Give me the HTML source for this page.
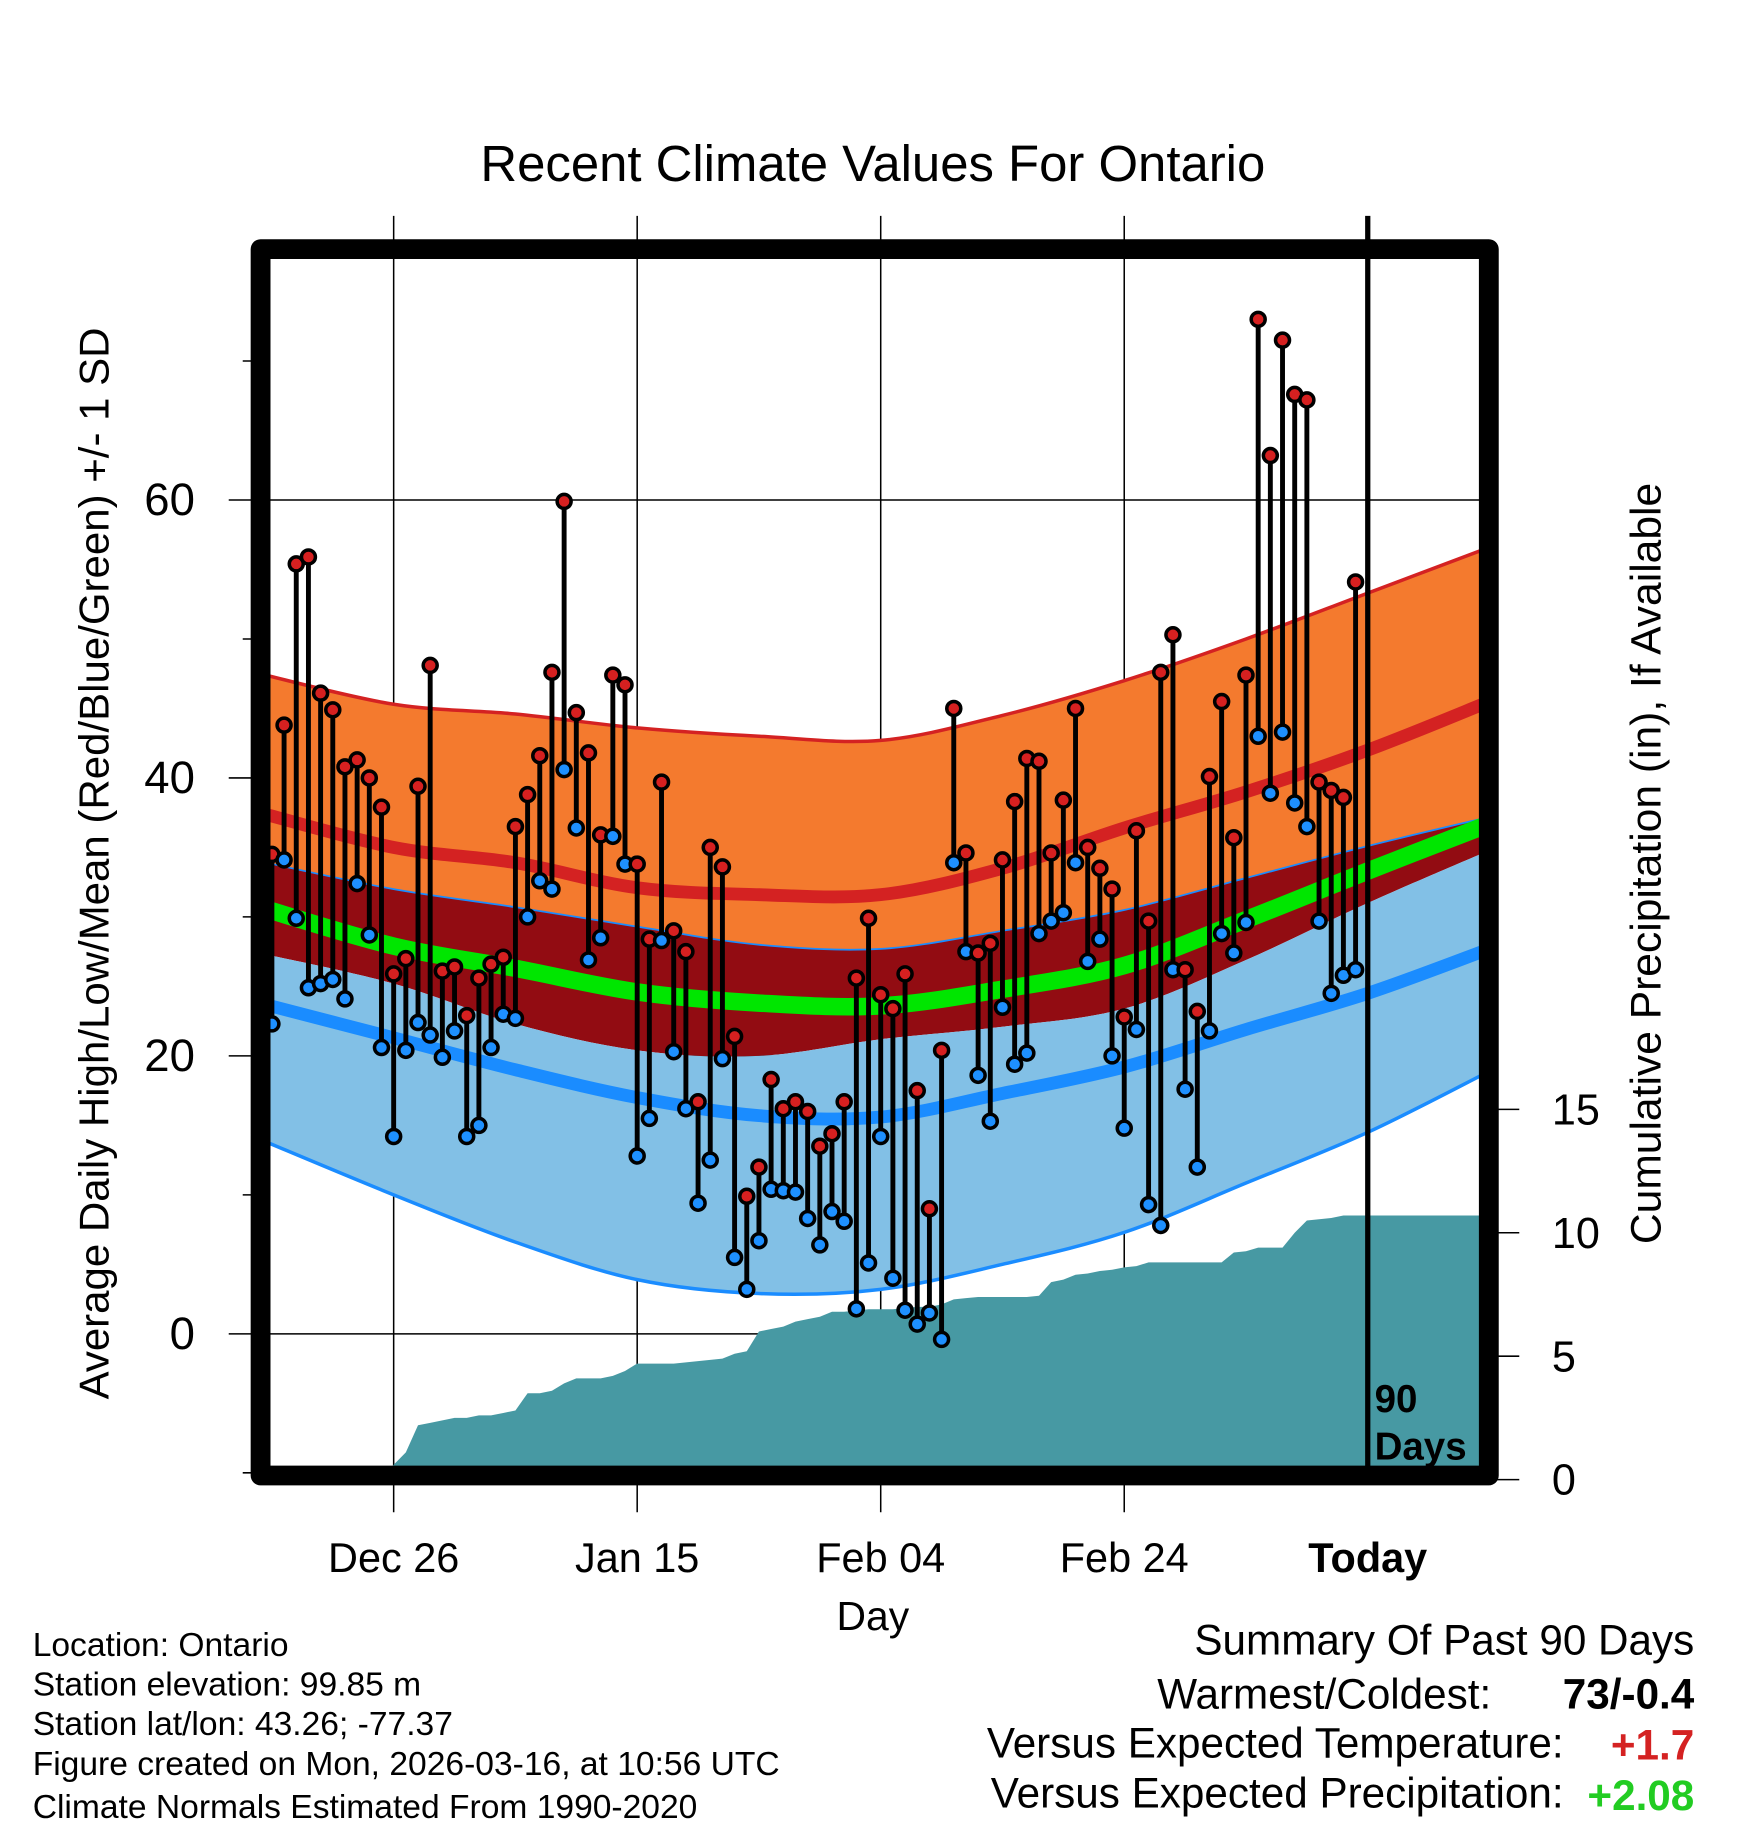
<!DOCTYPE html>
<html><head><meta charset="utf-8">
<style>
html,body{margin:0;padding:0;background:#fff;}
svg{display:block;}
text{font-family:"Liberation Sans",sans-serif;fill:#000;}
</style></head>
<body>
<svg id="chart" xmlns="http://www.w3.org/2000/svg" width="1748" height="1828" viewBox="0 0 1498 1566.6">
<defs><clipPath id="plotclip"><rect x="222.6" y="214" width="1053.9" height="1048.2"/></clipPath></defs>
<g id="grid"></g>
<g id="plot" clip-path="url(#plotclip)"></g>
<g id="over"></g>
<text x="748" y="155" font-size="43.6" text-anchor="middle">Recent Climate Values For Ontario</text>
<text transform="translate(93,740) rotate(-90)" font-size="36" text-anchor="middle">Average Daily High/Low/Mean (Red/Blue/Green) +/- 1 SD</text>
<text transform="translate(1423,740) rotate(-90)" font-size="36.5" text-anchor="middle">Cumulative Precipitation (in), If Available</text>
<text x="748" y="1397" font-size="35" text-anchor="middle">Day</text>
<g font-size="28.8">
<text x="28" y="1419">Location: Ontario</text>
<text x="28" y="1453">Station elevation: 99.85 m</text>
<text x="28" y="1487">Station lat/lon: 43.26; -77.37</text>
<text x="28" y="1521">Figure created on Mon, 2026-03-16, at 10:56 UTC</text>
<text x="28" y="1558">Climate Normals Estimated From 1990-2020</text>
</g>
<g font-size="36.2">
<text x="1452" y="1418" text-anchor="end">Summary Of Past 90 Days</text>
<text x="1278" y="1464" text-anchor="end">Warmest/Coldest:</text>
<text x="1452" y="1464" text-anchor="end" font-weight="bold">73/-0.4</text>
<text x="1340" y="1506" text-anchor="end">Versus Expected Temperature:</text>
<text x="1452" y="1508" text-anchor="end" font-weight="bold" style="fill:#d42222">+1.7</text>
<text x="1340" y="1549" text-anchor="end">Versus Expected Precipitation:</text>
<text x="1452" y="1551" text-anchor="end" font-weight="bold" style="fill:#22cc22">+2.08</text>
</g>
</svg>
<script>
const highs=[34.5,43.8,55.4,55.9,46.1,44.9,40.8,41.3,40.0,37.9,25.9,27.0,39.4,48.1,26.1,26.4,22.9,25.6,26.6,27.1,36.5,38.8,41.6,47.6,59.9,44.7,41.8,35.9,47.4,46.7,33.8,28.4,39.7,29.0,27.5,16.7,35.0,33.6,21.4,9.9,12.0,18.3,16.2,16.7,16.0,13.5,14.4,16.7,25.6,29.9,24.4,23.4,25.9,17.5,9.0,20.4,45.0,34.6,27.4,28.1,34.1,38.3,41.4,41.2,34.6,38.4,45.0,35.0,33.5,32.0,22.8,36.2,29.7,47.6,50.3,26.2,23.2,40.1,45.5,35.7,47.4,73.0,63.2,71.5,67.6,67.2,39.7,39.1,38.6,54.1];
const lows=[22.3,34.1,29.9,24.9,25.2,25.5,24.1,32.4,28.7,20.6,14.2,20.4,22.4,21.5,19.9,21.8,14.2,15.0,20.6,23.0,22.7,30.0,32.6,32.0,40.6,36.4,26.9,28.5,35.8,33.8,12.8,15.5,28.3,20.3,16.2,9.4,12.5,19.8,5.5,3.2,6.7,10.4,10.3,10.2,8.3,6.4,8.8,8.1,1.8,5.1,14.2,4.0,1.7,0.7,1.5,-0.4,33.9,27.5,18.6,15.3,23.5,19.4,20.2,28.8,29.7,30.3,33.9,26.8,28.4,20.0,14.8,21.9,9.3,7.8,26.2,17.6,12.0,21.8,28.8,27.4,29.6,43.0,38.9,43.3,38.2,36.5,29.7,24.5,25.8,26.2];
const precip=[0,0,0,0,0,0,0,0,0,0.05,0.6,1.1,2.2,2.3,2.4,2.5,2.5,2.6,2.6,2.7,2.8,3.5,3.5,3.6,3.9,4.1,4.1,4.1,4.2,4.4,4.7,4.7,4.7,4.7,4.75,4.8,4.85,4.9,5.1,5.2,6.0,6.1,6.2,6.4,6.5,6.6,6.8,6.8,6.85,6.9,6.9,6.9,6.95,7.0,7.0,7.1,7.3,7.35,7.4,7.4,7.4,7.4,7.4,7.45,8.0,8.1,8.3,8.35,8.45,8.5,8.6,8.65,8.8,8.8,8.8,8.8,8.8,8.8,8.8,9.2,9.25,9.4,9.4,9.4,10.0,10.5,10.55,10.6,10.7,10.7];
const normDays=[-1,10,20,30,40,50,60,70,80,90,100];
const highPlus=[47.5,45.3,44.6,43.6,43.0,42.7,44.5,47.0,50.0,53.3,56.6];
const highMean=[37.5,35.0,33.9,32.1,31.6,31.6,33.5,36.4,39.0,42.0,45.5];
const highMinus=[34.0,32.0,30.7,29.3,28.0,27.7,29.0,30.5,32.8,35.1,37.2];
const meanT=[30.7,27.9,26.3,24.6,23.8,23.6,24.8,26.5,29.8,33.3,36.7];
const lowPlus=[27.4,25.2,22.3,20.4,20.0,21.2,22.1,23.4,26.9,31.0,34.8];
const lowMean=[23.8,21.3,19.0,17.0,15.7,15.6,17.3,19.2,21.9,24.5,27.7];
const lowMinus=[14.0,10.0,6.6,3.9,2.9,3.2,5.0,7.3,10.85,14.5,18.9];
const yTicks=[0,20,40,60];
const yMinor=[-10,10,30,50,70];
const pTicks=[0,5,10,15];
const xTickDays=[10,30,50,70,90];
const xTickLabels=["Dec 26","Jan 15","Feb 04","Feb 24","Today"];

const NS="http://www.w3.org/2000/svg";
const X=d=>233+10.435*d;
const Y=v=>1143.1-v*11.91;
const PY=p=>1268-p*21.15;
function mk(tag,attrs,parent){const e=document.createElementNS(NS,tag);for(const k in attrs)e.setAttribute(k,attrs[k]);parent.appendChild(e);return e;}
function pts(vals){return normDays.map((d,i)=>[X(d),Y(vals[i])]);}
function smooth(p){let s="M"+p[0][0]+","+p[0][1];for(let i=0;i<p.length-1;i++){const p0=p[i-1]||p[i],p1=p[i],p2=p[i+1],p3=p[i+2]||p2;const c1=[p1[0]+(p2[0]-p0[0])/6,p1[1]+(p2[1]-p0[1])/6],c2=[p2[0]-(p3[0]-p1[0])/6,p2[1]-(p3[1]-p1[1])/6];s+=" C"+c1+" "+c2+" "+p2;}return s;}
function band(top,bot){const b=pts(bot).reverse();return smooth(pts(top))+" L"+b[0]+smooth(b).slice(1).replace(/^[^C]*/," ")+"Z";}
const plot=document.getElementById('plot'),grid=document.getElementById('grid'),over=document.getElementById('over');

let e;
e=mk('path',{d:band(highMean,lowPlus),fill:'#920c12'},plot);

e=mk('path',{d:band(highPlus,highMinus),fill:'#f47a2e'},plot);

e=mk('path',{d:smooth(pts(highPlus)),fill:'none',stroke:'#d42222','stroke-width':3},plot);

e=mk('path',{d:smooth(pts(highMinus)),fill:'none',stroke:'#1a8cff','stroke-width':1.5},plot);

e=mk('path',{d:band(lowPlus,lowMinus),fill:'#82c0e6'},plot);

e=mk('path',{d:smooth(pts(lowMinus)),fill:'none',stroke:'#1a8cff','stroke-width':3},plot);

e=mk('path',{d:smooth(pts(highMean)),fill:'none',stroke:'#d42222','stroke-width':11},plot);

e=mk('path',{d:smooth(pts(lowMean)),fill:'none',stroke:'#1a8cff','stroke-width':11},plot);

e=mk('path',{d:smooth(pts(meanT)),fill:'none',stroke:'#00e600','stroke-width':15},plot);


let pd="M"+X(-1)+","+PY(0)+" L"+X(0)+","+PY(precip[0]);
precip.forEach((p,i)=>{pd+=" L"+X(i)+","+PY(p);});
const last=precip[precip.length-1];
pd+=" L"+X(101)+","+PY(last)+" L"+X(101)+","+PY(0)+"Z";
e=mk('path',{d:pd,fill:'#4799a3'},plot);


yTicks.forEach(v=>{
 e=mk('line',{x1:196,x2:1276,y1:Y(v),y2:Y(v),stroke:'#000','stroke-width':1.3},grid);
 
 e=mk('text',{x:167,y:Y(v)+13,'font-size':39,'text-anchor':'end'},over);e.textContent=v;
 
});
yMinor.forEach(v=>{
 e=mk('line',{x1:208,x2:224,y1:Y(v),y2:Y(v),stroke:'#000','stroke-width':1.3},grid);
 
});
xTickDays.forEach((d,i)=>{
 if(i<4){e=mk('line',{x1:X(d),x2:X(d),y1:185,y2:1296,stroke:'#000','stroke-width':1.3},grid);
 }
 e=mk('text',{x:X(d),y:1347,'font-size':35.5,'text-anchor':'middle'},over);e.textContent=xTickLabels[i];
 if(i==4)e.setAttribute('font-weight','bold');
 
});
pTicks.forEach(p=>{
 e=mk('line',{x1:1280,x2:1302,y1:PY(p),y2:PY(p),stroke:'#000','stroke-width':1.3},over);
 
 e=mk('text',{x:1330,y:PY(p)+13,'font-size':37},over);e.textContent=p;
 
});

highs.forEach((h,i)=>{
 const l=lows[i],x=X(i);
 e=mk('line',{x1:x,x2:x,y1:Y(h),y2:Y(l),stroke:'#000','stroke-width':4.2},plot);
 
});
highs.forEach((h,i)=>{
 const l=lows[i],x=X(i);
 e=mk('circle',{cx:x,cy:Y(l),r:6,fill:'#1e90ff',stroke:'#000','stroke-width':3},plot);
 
 e=mk('circle',{cx:x,cy:Y(h),r:6,fill:'#d62020',stroke:'#000','stroke-width':3},plot);
 
});

e=mk('line',{x1:X(90),x2:X(90),y1:185,y2:1262,stroke:'#000','stroke-width':4.5},over);

e=mk('rect',{x:223.3,y:213.5,width:1052.6,height:1051,fill:'none',stroke:'#000','stroke-width':17,'stroke-linejoin':'round'},over);

e=mk('text',{x:1178,y:1210,'font-size':33,'font-weight':'bold'},over);e.textContent="90";

e=mk('text',{x:1178,y:1251,'font-size':33,'font-weight':'bold'},over);e.textContent="Days";

</script>
</body></html>
